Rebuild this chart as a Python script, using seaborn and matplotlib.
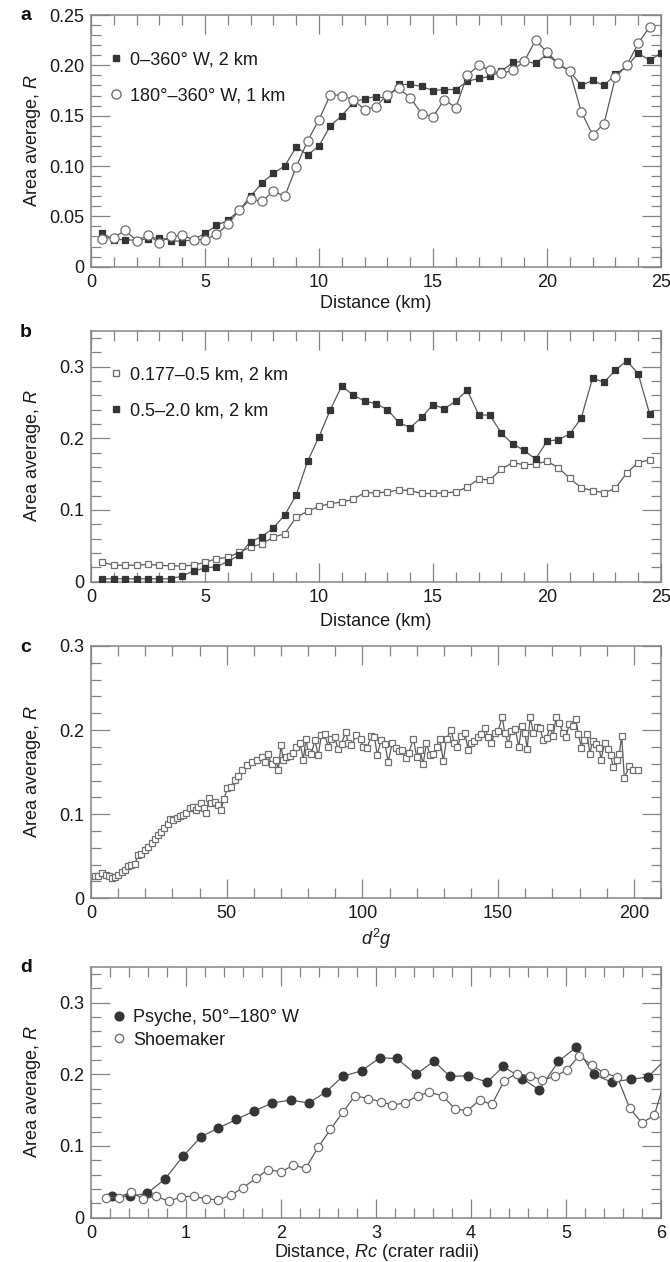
import numpy as np
import pandas as pd
import seaborn as sns
import matplotlib
matplotlib.use("Agg")
import matplotlib.pyplot as plt
from matplotlib.lines import Line2D
from matplotlib.ticker import MultipleLocator, FuncFormatter

sns.set_theme(style="ticks")
plt.rcParams["font.family"] = ["Liberation Sans", "DejaVu Sans"]
plt.rcParams["mathtext.fontset"] = "custom"
plt.rcParams["mathtext.rm"] = "Liberation Sans"
plt.rcParams["mathtext.it"] = "Liberation Sans:italic"
plt.rcParams["font.size"] = 13

# ---------------- data ----------------
# panel a: area average vs distance (km)
a_dist_all = [0.5, 1.0, 1.5, 2.0, 2.5, 3.0, 3.5, 4.0, 4.5, 5.0,
              5.5, 6.0, 6.5, 7.0, 7.5, 8.0, 8.5, 9.0, 9.5, 10.0,
              10.5, 11.0, 11.5, 12.0, 12.5, 13.0, 13.5, 14.0, 14.5, 15.0,
              15.5, 16.0, 16.5, 17.0, 17.5, 18.0, 18.5, 19.0, 19.5, 20.0,
              20.5, 21.0, 21.5, 22.0, 22.5, 23.0, 23.5, 24.0, 24.5, 25.0]
a_r_all = [0.033, 0.027, 0.027, 0.026, 0.028, 0.029, 0.026, 0.025, 0.027, 0.033,
           0.041, 0.046, 0.056, 0.070, 0.083, 0.093, 0.100, 0.119, 0.111, 0.120,
           0.140, 0.150, 0.163, 0.167, 0.169, 0.167, 0.181, 0.181, 0.179, 0.175,
           0.176, 0.176, 0.184, 0.187, 0.189, 0.194, 0.203, 0.204, 0.202, 0.211,
           0.201, 0.194, 0.180, 0.185, 0.180, 0.191, 0.199, 0.212, 0.205, 0.212]
a_dist_west = a_dist_all[:49]
a_r_west = [0.028, 0.029, 0.036, 0.026, 0.031, 0.024, 0.030, 0.031, 0.027, 0.027,
            0.032, 0.042, 0.056, 0.067, 0.065, 0.075, 0.070, 0.099, 0.125, 0.146,
            0.171, 0.170, 0.166, 0.156, 0.159, 0.171, 0.177, 0.168, 0.152, 0.149,
            0.166, 0.158, 0.190, 0.200, 0.195, 0.192, 0.195, 0.204, 0.225, 0.213,
            0.202, 0.194, 0.154, 0.131, 0.142, 0.188, 0.200, 0.222, 0.238]
a_labels = ["0\u2013360\u00b0 W, 2 km", "180\u00b0\u2013360\u00b0 W, 1 km"]

# panel b: two crater size ranges
b_dist = a_dist_all[:49]
b_r_small = [0.027, 0.023, 0.023, 0.023, 0.024, 0.023, 0.022, 0.022, 0.023, 0.027,
             0.032, 0.034, 0.041, 0.048, 0.053, 0.062, 0.067, 0.090, 0.098, 0.105,
             0.109, 0.111, 0.115, 0.124, 0.124, 0.125, 0.128, 0.127, 0.123, 0.123,
             0.124, 0.125, 0.132, 0.143, 0.142, 0.157, 0.166, 0.163, 0.164, 0.168,
             0.159, 0.144, 0.131, 0.127, 0.124, 0.130, 0.152, 0.166, 0.170]
b_r_large = [0.004, 0.004, 0.004, 0.004, 0.004, 0.004, 0.004, 0.008, 0.015, 0.019,
             0.021, 0.028, 0.037, 0.056, 0.063, 0.075, 0.093, 0.121, 0.168, 0.202,
             0.240, 0.273, 0.260, 0.252, 0.248, 0.240, 0.222, 0.215, 0.229, 0.247,
             0.241, 0.252, 0.267, 0.233, 0.232, 0.207, 0.192, 0.183, 0.171, 0.196,
             0.198, 0.206, 0.228, 0.284, 0.278, 0.295, 0.308, 0.290, 0.234]
b_labels = ["0.177\u20130.5 km, 2 km", "0.5\u20132.0 km, 2 km"]

# panel c: area average vs d^2 g
c_d2g = [1.5, 2.7, 4.2, 5.4, 6.6, 7.8, 9.0, 10.0, 11.3, 12.5,
         13.7, 14.9, 16.2, 17.4, 18.6, 19.9, 21.1, 22.3, 23.5, 24.7,
         25.7, 26.9, 28.2, 29.0, 30.3, 31.5, 32.7, 33.9, 35.1, 36.4,
         37.6, 38.5, 39.4, 40.7, 41.7, 42.5, 43.4, 44.3, 45.6, 46.8,
         47.8, 49.0, 50.2, 51.5, 52.9, 54.2, 55.5, 57.3, 59.2, 61.0,
         62.9, 64.1, 65.1, 66.5, 68.1, 69.0, 70.0, 70.8, 72.0, 73.3,
         74.5, 75.7, 77.0, 78.2, 79.2, 80.0, 81.2, 82.5, 83.7, 84.9,
         86.1, 87.4, 88.6, 89.8, 91.0, 92.3, 93.9, 94.7, 95.9, 97.8,
         99.3, 100.2, 101.7, 103.3, 104.4, 105.5, 106.8, 108.3, 109.5, 111.0,
         112.2, 113.5, 114.7, 115.9, 117.1, 118.8, 120.0, 121.2, 122.4, 123.6,
         124.9, 126.1, 127.3, 128.5, 129.8, 131.0, 132.6, 133.8, 135.0, 136.3,
         137.7, 139.0, 139.9, 141.2, 142.4, 143.8, 145.1, 146.3, 147.5, 148.8,
         150.0, 151.5, 152.4, 153.7, 154.9, 156.3, 157.6, 158.7, 159.9, 160.7,
         161.8, 163.0, 164.2, 165.4, 166.6, 167.9, 169.1, 170.3, 171.3, 172.5,
         173.8, 175.0, 176.2, 177.4, 178.7, 179.5, 180.7, 181.7, 182.8, 183.8,
         184.8, 186.0, 187.2, 187.9, 189.3, 190.5, 191.4, 192.4, 193.9, 194.6,
         195.5, 196.5, 198.3, 199.8, 201.6]
c_r = [0.026, 0.026, 0.030, 0.028, 0.026, 0.024, 0.025, 0.028, 0.031, 0.034,
       0.038, 0.040, 0.041, 0.052, 0.053, 0.057, 0.061, 0.066, 0.071, 0.075,
       0.079, 0.083, 0.088, 0.094, 0.093, 0.095, 0.098, 0.099, 0.101, 0.107,
       0.108, 0.105, 0.109, 0.113, 0.107, 0.102, 0.119, 0.113, 0.115, 0.111,
       0.105, 0.118, 0.131, 0.132, 0.141, 0.145, 0.152, 0.158, 0.162, 0.165,
       0.168, 0.162, 0.171, 0.160, 0.165, 0.153, 0.182, 0.165, 0.168, 0.169,
       0.173, 0.180, 0.185, 0.165, 0.190, 0.174, 0.172, 0.188, 0.170, 0.194,
       0.195, 0.180, 0.189, 0.192, 0.177, 0.184, 0.198, 0.185, 0.182, 0.194,
       0.189, 0.180, 0.179, 0.193, 0.192, 0.170, 0.188, 0.183, 0.162, 0.185,
       0.179, 0.175, 0.176, 0.167, 0.173, 0.190, 0.168, 0.176, 0.160, 0.185,
       0.170, 0.172, 0.180, 0.190, 0.163, 0.190, 0.200, 0.185, 0.180, 0.193,
       0.197, 0.176, 0.185, 0.187, 0.192, 0.195, 0.203, 0.192, 0.185, 0.197,
       0.199, 0.216, 0.197, 0.184, 0.199, 0.201, 0.180, 0.205, 0.196, 0.178,
       0.215, 0.197, 0.204, 0.203, 0.188, 0.191, 0.204, 0.193, 0.215, 0.209,
       0.197, 0.192, 0.207, 0.205, 0.213, 0.195, 0.179, 0.188, 0.195, 0.172,
       0.187, 0.183, 0.179, 0.165, 0.185, 0.178, 0.170, 0.156, 0.165, 0.171,
       0.193, 0.143, 0.157, 0.153, 0.152]

# panel d: distance in crater radii
d_rc_psyche = [0.22, 0.41, 0.59, 0.78, 0.97, 1.16, 1.34, 1.53, 1.72, 1.91,
               2.10, 2.29, 2.47, 2.65, 2.85, 3.04, 3.22, 3.42, 3.61, 3.78,
               3.97, 4.17, 4.34, 4.54, 4.72, 4.92, 5.11, 5.29, 5.48, 5.68,
               5.86, 6.08]
d_r_psyche = [0.030, 0.030, 0.034, 0.054, 0.086, 0.113, 0.125, 0.137, 0.149, 0.160,
              0.164, 0.160, 0.175, 0.197, 0.205, 0.223, 0.222, 0.200, 0.218, 0.197,
              0.198, 0.189, 0.211, 0.194, 0.178, 0.218, 0.238, 0.200, 0.189, 0.193,
              0.196, 0.225]
d_rc_shoe = [0.16, 0.29, 0.42, 0.55, 0.68, 0.82, 0.95, 1.08, 1.21, 1.34,
             1.47, 1.60, 1.74, 1.86, 2.00, 2.13, 2.26, 2.39, 2.52, 2.65,
             2.78, 2.92, 3.05, 3.17, 3.30, 3.44, 3.56, 3.70, 3.83, 3.96,
             4.09, 4.22, 4.35, 4.48, 4.62, 4.75, 4.88, 5.01, 5.14, 5.27,
             5.40, 5.54, 5.67, 5.80, 5.93, 6.06]
d_r_shoe = [0.028, 0.028, 0.036, 0.026, 0.030, 0.023, 0.029, 0.030, 0.026, 0.025,
            0.031, 0.042, 0.055, 0.067, 0.064, 0.073, 0.069, 0.098, 0.123, 0.147,
            0.170, 0.166, 0.162, 0.157, 0.160, 0.170, 0.175, 0.170, 0.152, 0.149,
            0.164, 0.158, 0.191, 0.201, 0.198, 0.192, 0.197, 0.206, 0.226, 0.213,
            0.202, 0.196, 0.153, 0.132, 0.143, 0.200]
d_labels = ["Psyche, 50\u00b0\u2013180\u00b0 W", "Shoemaker"]

# ---------------- style ----------------
LINE = "#5a5a5a"
DARK = "#353535"
OPEN_EDGE = "#707070"
SPINE = "#858585"
TEXT = "#1a1a1a"

W, H = 670, 1262
fig = plt.figure(figsize=(W / 100, H / 100), dpi=100)
fig.patch.set_facecolor("white")

def axes_box(top_px, bottom_px, left_px=91, right_px=661):
    return [left_px / W, 1 - bottom_px / H, (right_px - left_px) / W, (bottom_px - top_px) / H]

ax_a = fig.add_axes(axes_box(15, 266.7))
ax_b = fig.add_axes(axes_box(330.7, 581.7))
ax_c = fig.add_axes(axes_box(646, 898.3))
ax_d = fig.add_axes(axes_box(966.7, 1217.7))


def series(ax, x, y, marker, ms, filled, zorder=3):
    df = pd.DataFrame({"x": x, "y": y})
    sns.lineplot(data=df, x="x", y="y", ax=ax, estimator=None, sort=False,
                 color=LINE, linewidth=0.9, marker=marker, markersize=ms,
                 markerfacecolor=DARK if filled else "white",
                 markeredgecolor=DARK if filled else OPEN_EDGE,
                 markeredgewidth=0.9, zorder=zorder, legend=False)


def style_axes(ax, xlim, ylim, xmaj, xmin, ymaj, ymin, yfmt):
    ax.set_xlim(*xlim)
    ax.set_ylim(*ylim)
    ax.xaxis.set_major_locator(MultipleLocator(xmaj))
    ax.xaxis.set_minor_locator(MultipleLocator(xmin))
    ax.yaxis.set_major_locator(MultipleLocator(ymaj))
    ax.yaxis.set_minor_locator(MultipleLocator(ymin))
    ax.xaxis.set_major_formatter(FuncFormatter(lambda v, p: f"{v:g}"))
    ax.yaxis.set_major_formatter(FuncFormatter(
        lambda v, p: "0" if abs(v) < 1e-9 else yfmt.format(v)))
    for s in ax.spines.values():
        s.set_visible(True)
        s.set_color(SPINE)
        s.set_linewidth(1.1)
    ax.tick_params(which="both", direction="in", top=True, right=True,
                   color=SPINE, width=0.9, labelsize=13, labelcolor=TEXT)
    ax.tick_params(which="major", length=14, pad=5)
    ax.tick_params(which="minor", length=7)
    ax.set_facecolor("white")
    ax.grid(False)
    ax.set_ylabel("Area average, $R$", fontsize=13, color=TEXT)
    ax.yaxis.set_label_coords(-0.1035, 0.5)
    ax.yaxis.label.set_va("center")


def set_xlabel(ax, text, ycoord):
    ax.set_xlabel(text, fontsize=13, color=TEXT)
    ax.xaxis.set_label_coords(0.5, ycoord)
    ax.xaxis.label.set_va("center")


def legend(ax, handles, labels, x, y, spacing):
    ax.legend(handles, labels, loc="upper left", bbox_to_anchor=(x, y),
              frameon=False, handlelength=0.6, handletextpad=0.45,
              labelspacing=spacing, borderpad=0, borderaxespad=0,
              fontsize=13, labelcolor=TEXT)


# ---- panel a ----
series(ax_a, a_dist_all, a_r_all, "s", 4.6, True)
series(ax_a, a_dist_west, a_r_west, "o", 6.6, False)
style_axes(ax_a, (0, 25), (0, 0.25), 5, 1, 0.05, 0.01, "{:.2f}")
set_xlabel(ax_a, "Distance (km)", -0.148)
legend(ax_a,
       [Line2D([], [], ls="none", marker="s", ms=4.6, mfc=DARK, mec=DARK),
        Line2D([], [], ls="none", marker="o", ms=6.6, mfc="white", mec=OPEN_EDGE)],
       a_labels, 0.0346, 0.855, 1.05)

# ---- panel b ----
series(ax_b, b_dist, b_r_small, "s", 4.6, False)
series(ax_b, b_dist, b_r_large, "s", 4.6, True)
style_axes(ax_b, (0, 25), (0, 0.35), 5, 1, 0.1, 0.02, "{:.1f}")
set_xlabel(ax_b, "Distance (km)", -0.157)
legend(ax_b,
       [Line2D([], [], ls="none", marker="s", ms=4.6, mfc="white", mec=OPEN_EDGE),
        Line2D([], [], ls="none", marker="s", ms=4.6, mfc=DARK, mec=DARK)],
       b_labels, 0.0346, 0.857, 1.05)

# ---- panel c ----
series(ax_c, c_d2g, c_r, "s", 4.6, False)
style_axes(ax_c, (0, 210), (0, 0.3), 50, 10, 0.1, 0.02, "{:.1f}")
set_xlabel(ax_c, "$d^2g$", -0.161)

# ---- panel d ----
series(ax_d, d_rc_psyche, d_r_psyche, "o", 6.3, True)
series(ax_d, d_rc_shoe, d_r_shoe, "o", 6.0, False)
style_axes(ax_d, (0, 6), (0, 0.35), 1, 0.2, 0.1, 0.02, "{:.1f}")
set_xlabel(ax_d, "Distance, $Rc$ (crater radii)", -0.137)
legend(ax_d,
       [Line2D([], [], ls="none", marker="o", ms=6.3, mfc=DARK, mec=DARK),
        Line2D([], [], ls="none", marker="o", ms=6.0, mfc="white", mec=OPEN_EDGE)],
       d_labels, 0.040, 0.83, 0.3)

# panel letters
for letter, base_px in [("a", 20.5), ("b", 337), ("c", 652), ("d", 972)]:
    fig.text(20 / W, 1 - base_px / H, letter, fontsize=14, fontweight="bold",
             ha="left", va="baseline", color="#111111")

fig.savefig("out.png", dpi=100, facecolor="white")
